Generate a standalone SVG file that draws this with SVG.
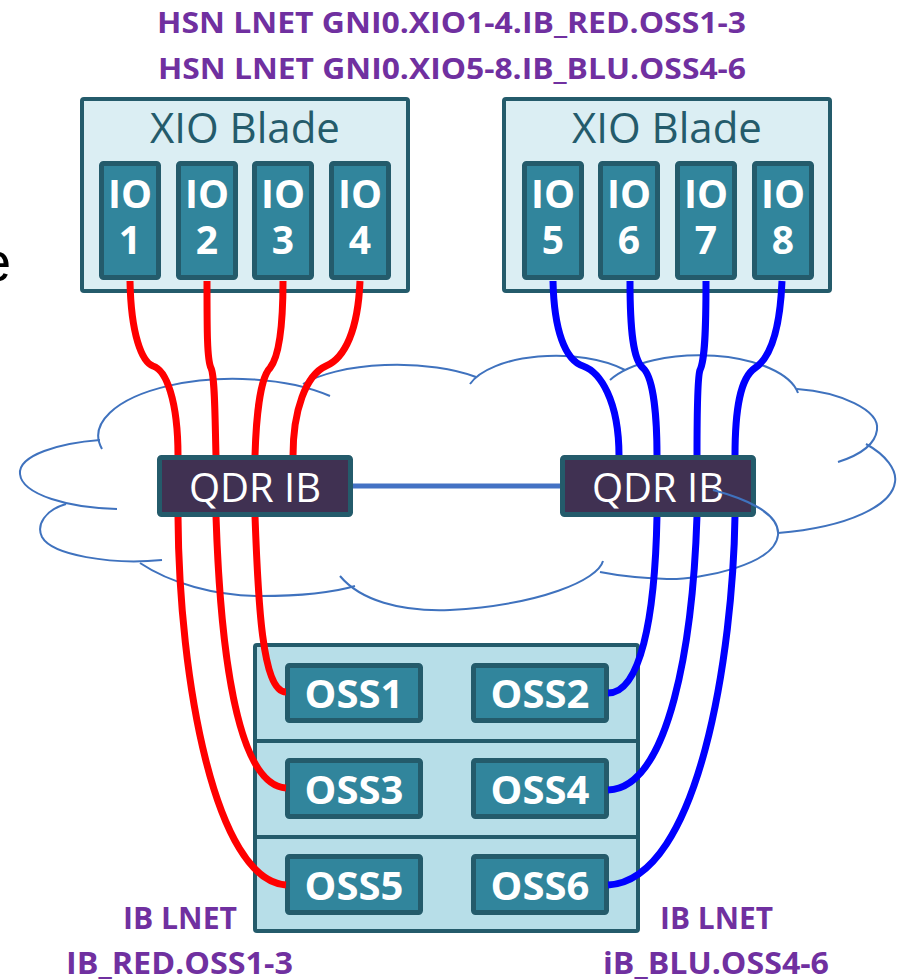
<svg xmlns="http://www.w3.org/2000/svg" width="899" height="979" viewBox="0 0 899 979">
  <style>
    .title { font-family: "Open Sans", "Liberation Sans", sans-serif; font-weight: 700; fill: #7030A0; }
    .blade { fill: #DBEEF3; stroke: #245B6B; stroke-width: 4; }
    .blade-label { font-family: "Open Sans", "Liberation Sans", sans-serif; font-size: 42px; fill: #245B6B; text-anchor: middle; }
    .io { fill: #31859C; stroke: #245B6B; stroke-width: 5; }
    .io-label { font-family: "Open Sans", "Liberation Sans", sans-serif; font-weight: 700; font-size: 39px; fill: #FFFFFF; text-anchor: middle; }
    .qdr { fill: #403152; stroke: #245B6B; stroke-width: 5; }
    .qdr-label { font-family: "Open Sans", "Liberation Sans", sans-serif; font-size: 40px; fill: #FFFFFF; text-anchor: middle; }
    .rack { fill: #B7DEE8; stroke: #245B6B; stroke-width: 4; }
    .shelf { stroke: #245B6B; stroke-width: 4; }
    .oss { fill: #31859C; stroke: #245B6B; stroke-width: 5; }
    .oss-label { font-family: "Open Sans", "Liberation Sans", sans-serif; font-weight: 700; font-size: 40px; fill: #FFFFFF; text-anchor: middle; }
    .cloud path { fill: none; stroke: #3F72BE; stroke-width: 2; }
    .red { fill: none; stroke: #FF0000; stroke-width: 7; stroke-linejoin: round; }
    .blue { fill: none; stroke: #0000FF; stroke-width: 7; stroke-linejoin: round; }
    .link { stroke: #4472C4; stroke-width: 5; }
  </style>
  <defs>
    <clipPath id="qdr-right-clip">
      <rect x="560" y="455" width="196" height="62"/>
    </clipPath>
  </defs>

  <!-- partial caption letter at the left edge -->
  <text x="-20" y="281" font-family="Liberation Sans, Arial, sans-serif" font-size="56" fill="#000000">e</text>

  <!-- LNET names -->
  <g id="hsn-lnet-labels">
    <text class="title" x="157" y="33" font-size="29" textLength="589" lengthAdjust="spacingAndGlyphs">HSN LNET GNI0.XIO1-4.IB_RED.OSS1-3</text>
    <text class="title" x="158" y="79" font-size="29" textLength="588" lengthAdjust="spacingAndGlyphs">HSN LNET GNI0.XIO5-8.IB_BLU.OSS4-6</text>
  </g>

  <!-- IB fabric cloud -->
  <g id="ib-cloud" class="cloud">
    <path id="cloud-bump-b1" d="M102,449 A135,57 0 0 1 330,396"/>
    <path d="M303,384 A110,40 0 0 1 476,377"/>
    <path d="M470,384 A90,40 0 0 1 625,370"/>
    <path d="M610,380 A100,45 0 0 1 798,393"/>
    <path d="M797,389 C840,392 880,410 877,430 C875,445 860,455 838,462"/>
    <path d="M866,444 C886,455 897,470 895,482 C892,505 850,527 778,533"/>
    <path id="cloud-bump-b7" d="M713,490 C750,500 780,515 778,535 C775,565 700,580 667,579 C640,578 615,575 600,572"/>
    <path d="M603,561 C598,580 540,605 450,610 C400,612 360,600 340,576"/>
    <path d="M140,563 C170,583 215,596 260,596 C300,596 335,592 355,586"/>
    <path d="M66,504 C45,510 36,525 42,537 C52,555 110,565 162,560"/>
    <path d="M117,509 C70,508 22,495 20,474 C18,455 60,443 100,440"/>
  </g>

  <!-- XIO blade with IO nodes 1-4 -->
  <g id="xio-blade-1">
    <rect class="blade" x="82" y="99" width="326" height="192" rx="2"/>
    <text class="blade-label" x="245" y="143">XIO Blade</text>
    <g id="io1">
      <rect class="io" x="101.5" y="163.5" width="57" height="114" rx="2"/>
      <text class="io-label" x="130" y="208">IO</text>
      <text class="io-label" x="130" y="254">1</text>
    </g>
    <g id="io2">
      <rect class="io" x="178.5" y="163.5" width="57" height="114" rx="2"/>
      <text class="io-label" x="207" y="208">IO</text>
      <text class="io-label" x="207" y="254">2</text>
    </g>
    <g id="io3">
      <rect class="io" x="254.5" y="163.5" width="57" height="114" rx="2"/>
      <text class="io-label" x="283" y="208">IO</text>
      <text class="io-label" x="283" y="254">3</text>
    </g>
    <g id="io4">
      <rect class="io" x="331.5" y="163.5" width="57" height="114" rx="2"/>
      <text class="io-label" x="360" y="208">IO</text>
      <text class="io-label" x="360" y="254">4</text>
    </g>
  </g>

  <!-- XIO blade with IO nodes 5-8 -->
  <g id="xio-blade-2">
    <rect class="blade" x="504" y="99" width="326" height="192" rx="2"/>
    <text class="blade-label" x="667" y="143">XIO Blade</text>
    <g id="io5">
      <rect class="io" x="524.5" y="163.5" width="57" height="114" rx="2"/>
      <text class="io-label" x="553" y="208">IO</text>
      <text class="io-label" x="553" y="254">5</text>
    </g>
    <g id="io6">
      <rect class="io" x="600.5" y="163.5" width="57" height="114" rx="2"/>
      <text class="io-label" x="629" y="208">IO</text>
      <text class="io-label" x="629" y="254">6</text>
    </g>
    <g id="io7">
      <rect class="io" x="677.5" y="163.5" width="57" height="114" rx="2"/>
      <text class="io-label" x="706" y="208">IO</text>
      <text class="io-label" x="706" y="254">7</text>
    </g>
    <g id="io8">
      <rect class="io" x="754.5" y="163.5" width="57" height="114" rx="2"/>
      <text class="io-label" x="783" y="208">IO</text>
      <text class="io-label" x="783" y="254">8</text>
    </g>
  </g>

  <!-- OSS rack: three shelves, two servers each -->
  <g id="oss-rack">
    <rect class="rack" x="255" y="645" width="383" height="286" rx="2"/>
    <line class="shelf" x1="253" y1="741" x2="640" y2="741"/>
    <line class="shelf" x1="253" y1="837" x2="640" y2="837"/>
    <g id="oss1">
      <rect class="oss" x="287.5" y="665.5" width="133" height="55" rx="2"/>
      <text class="oss-label" x="354" y="708">OSS1</text>
    </g>
    <g id="oss2">
      <rect class="oss" x="473.5" y="665.5" width="133" height="55" rx="2"/>
      <text class="oss-label" x="540" y="708">OSS2</text>
    </g>
    <g id="oss3">
      <rect class="oss" x="287.5" y="760.5" width="133" height="56" rx="2"/>
      <text class="oss-label" x="354" y="804">OSS3</text>
    </g>
    <g id="oss4">
      <rect class="oss" x="473.5" y="760.5" width="133" height="56" rx="2"/>
      <text class="oss-label" x="540" y="804">OSS4</text>
    </g>
    <g id="oss5">
      <rect class="oss" x="287.5" y="856.5" width="133" height="56" rx="2"/>
      <text class="oss-label" x="354" y="900">OSS5</text>
    </g>
    <g id="oss6">
      <rect class="oss" x="473.5" y="856.5" width="133" height="56" rx="2"/>
      <text class="oss-label" x="540" y="900">OSS6</text>
    </g>
  </g>

  <!-- cabling -->
  <g id="connectors">
    <line class="link" x1="352" y1="486" x2="561" y2="486"/>
    <!-- IO 1-4 to left switch -->
    <path class="red" d="M130,281 C131,335 142,362 153,366 C166,370 178,400 178,456"/>
    <path class="red" d="M207,281 C207,330 207,360 211,368 C215,376 215,420 216,456"/>
    <path class="red" d="M283,281 C283,330 278,358 270,368 C260,378 256,420 255,456"/>
    <path class="red" d="M360,281 C358,330 345,358 326,366 C306,375 293,410 293,456"/>
    <!-- left switch to OSS 1/3/5 -->
    <path class="red" d="M178,516 C179,680 215,880 286,885"/>
    <path class="red" d="M216,516 C220,640 235,785 286,788"/>
    <path class="red" d="M255,516 C258,600 262,692 286,692"/>
    <!-- IO 5-8 to right switch -->
    <path class="blue" d="M553,281 C554,330 565,360 583,366 C600,372 619,400 619,456"/>
    <path class="blue" d="M630,281 C630,330 633,360 643,368 C654,378 657,420 657,456"/>
    <path class="blue" d="M706,281 C706,330 705,360 700,370 C697,378 697,420 697,456"/>
    <path class="blue" d="M782,281 C780,330 770,358 755,368 C740,378 735,410 735,456"/>
    <!-- right switch to OSS 2/4/6 -->
    <path class="blue" d="M657,516 C655,620 640,693 608,693"/>
    <path class="blue" d="M697,516 C693,640 670,788 608,790"/>
    <path class="blue" d="M735,516 C733,650 700,880 608,885"/>
  </g>

  <!-- QDR IB switches -->
  <g id="qdr-ib-left">
    <rect class="qdr" x="159.5" y="457.5" width="191" height="57" rx="2"/>
    <text class="qdr-label" x="255" y="502">QDR IB</text>
  </g>
  <g id="qdr-ib-right">
    <rect class="qdr" x="562.5" y="457.5" width="191" height="57" rx="2"/>
    <text class="qdr-label" x="658" y="502">QDR IB</text>
  </g>

  <!-- cloud outline crossing the right switch -->
  <g class="cloud" clip-path="url(#qdr-right-clip)">
    <path d="M713,490 C750,500 780,515 778,535 C775,565 700,580 667,579 C640,578 615,575 600,572"/>
  </g>

  <!-- IB LNET names -->
  <g id="ib-lnet-labels">
    <text class="title" x="123" y="929" font-size="30" textLength="114" lengthAdjust="spacingAndGlyphs">IB LNET</text>
    <text class="title" x="66" y="974" font-size="30" textLength="227" lengthAdjust="spacingAndGlyphs">IB_RED.OSS1-3</text>
    <text class="title" x="660" y="929" font-size="30" textLength="113" lengthAdjust="spacingAndGlyphs">IB LNET</text>
    <text class="title" x="603" y="974" font-size="30" textLength="226" lengthAdjust="spacingAndGlyphs">iB_BLU.OSS4-6</text>
  </g>
</svg>
